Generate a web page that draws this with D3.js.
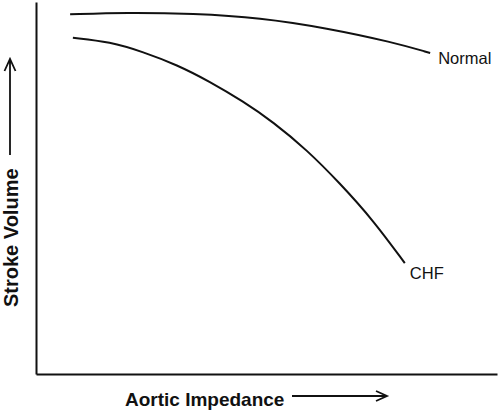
<!DOCTYPE html>
<html>
<head>
<meta charset="utf-8">
<script src="https://cdn.jsdelivr.net/npm/d3@7"></script>
<style>
	body { margin: 0; background: #fff; }
	text { font-family: "Liberation Sans", Arial, Helvetica, sans-serif; fill: #111; }
</style>
</head>
<body>
<script>
// stroke volume vs aortic impedance (arbitrary units, 0 - 10)

// curve points
var normalX = [0.74, 1.97, 3.41, 4.86, 6.31, 7.74, 8.55];
var normalY = [9.67, 9.72, 9.69, 9.58, 9.30, 8.92, 8.63];

var chfX = [0.80, 1.61, 2.32, 3.06, 3.77, 4.49, 5.14, 5.88, 6.59, 7.31, 8.00];
var chfY = [9.04, 8.93, 8.66, 8.31, 7.86, 7.33, 6.78, 6.02, 5.13, 4.14, 2.98];

var seriesNames = ["Normal", "CHF"];
var xTitle = "Aortic Impedance";
var yTitle = "Stroke Volume";

window.onload = function() {
	drawChart();
};

function drawChart() {

	var width = 500,
	height = 414;

	// plot area
	var left = 36, right = 497, top = 2, bottom = 374;

	var svg = d3.select("body")
				.append("svg")
				.attr("width", width)
				.attr("height", height);

	var xScale = d3.scaleLinear()
				   .domain([0, 10])
				   .range([left, right]);

	var yScale = d3.scaleLinear()
				   .domain([0, 10])
				   .range([bottom, top]);

	// axes, just the lines
	svg.append("g")
	   .attr("transform", "translate(0," + bottom + ")")
	   .call(d3.axisBottom(xScale).ticks(0).tickSizeOuter(0))
	   .select(".domain")
	   .attr("stroke", "#111")
	   .attr("stroke-width", 2);

	svg.append("g")
	   .attr("transform", "translate(" + left + ",0)")
	   .call(d3.axisLeft(yScale).ticks(0).tickSizeOuter(0))
	   .select(".domain")
	   .attr("stroke", "#111")
	   .attr("stroke-width", 2);

	// smooth hand drawn look
	var line = d3.line()
				 .x(function(d){ return xScale(d[0]); })
				 .y(function(d){ return yScale(d[1]); })
				 .curve(d3.curveBasis);

	var series = [d3.zip(normalX, normalY), d3.zip(chfX, chfY)];

	svg.selectAll(".curve")
	   .data(series)
	   .enter()
	   .append("path")
	   .attr("class", "curve")
	   .attr("d", line)
	   .attr("fill", "none")
	   .attr("stroke", "#111")
	   .attr("stroke-width", 2);

	// labels at the end of each curve
	var labelOffset = [[8, 11], [5, 16]];

	svg.selectAll(".label")
	   .data(series)
	   .enter()
	   .append("text")
	   .attr("class", "label")
	   .attr("x", function(d, i){ return xScale(d[d.length - 1][0]) + labelOffset[i][0]; })
	   .attr("y", function(d, i){ return yScale(d[d.length - 1][1]) + labelOffset[i][1]; })
	   .style("font-size", "16.5px")
	   .text(function(d, i){ return seriesNames[i]; });

	// x axis title + arrow
	svg.append("text")
	   .attr("x", 125)
	   .attr("y", 406)
	   .style("font-size", "19px")
	   .style("font-weight", "bold")
	   .text(xTitle);

	var arrow = d3.line();

	svg.append("path")
	   .attr("d", arrow([[292, 396], [387, 396]]) + arrow([[376, 391], [387, 396], [376, 401]]))
	   .attr("fill", "none")
	   .attr("stroke", "#111")
	   .attr("stroke-width", 1.8);

	// y axis title + arrow
	svg.append("text")
	   .attr("transform", "translate(18,307) rotate(-90)")
	   .style("font-size", "20px")
	   .style("font-weight", "bold")
	   .text(yTitle);

	svg.append("path")
	   .attr("d", arrow([[10, 155], [10, 59]]) + arrow([[4.5, 71], [10, 59], [15.5, 71]]))
	   .attr("fill", "none")
	   .attr("stroke", "#111")
	   .attr("stroke-width", 1.8);
};
</script>
</body>
</html>
